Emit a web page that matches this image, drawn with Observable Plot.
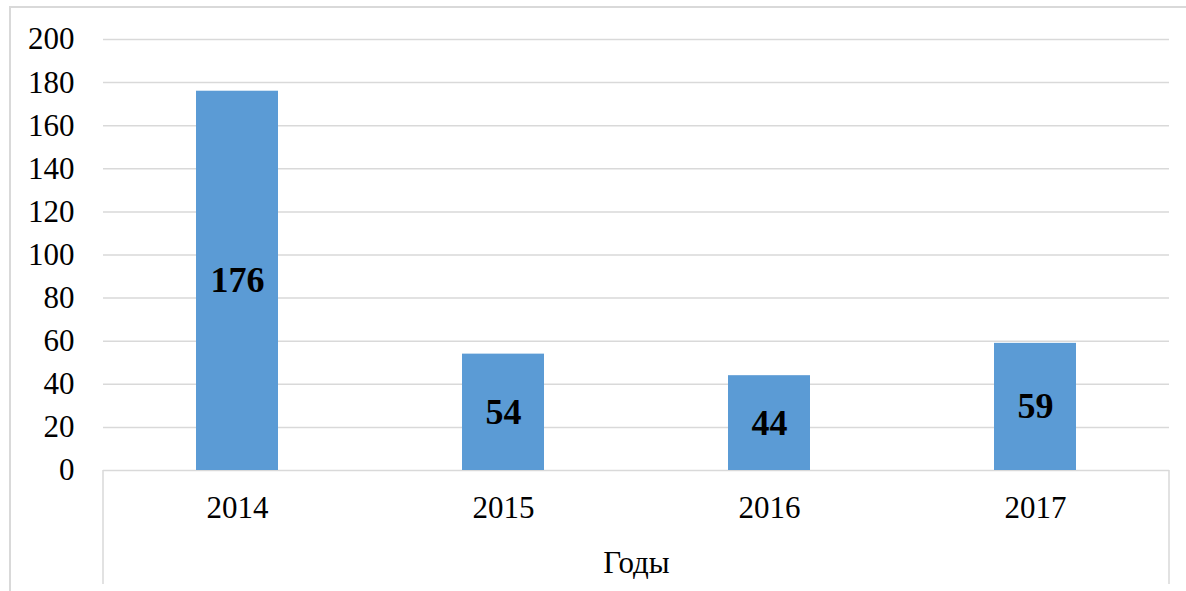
<!DOCTYPE html>
<html>
<head>
<meta charset="utf-8">
<script src="https://cdn.jsdelivr.net/npm/d3@7"></script>
<script src="https://cdn.jsdelivr.net/npm/@observablehq/plot@0.6"></script>
<style>
  html, body { margin: 0; padding: 0; background: #fff; overflow: hidden; }
  #wrap { position: relative; width: 1186px; height: 591px; }
  #border { position: absolute; left: 9px; top: 6px; width: 1200px; height: 600px; border: 2px solid #d9d9d9; box-sizing: border-box; pointer-events: none; }
</style>
</head>
<body>
<div id="wrap"><div id="border"></div></div>
<script>
const years = ["2014", "2015", "2016", "2017"];
const values = [176, 54, 44, 59];
const yTicks = [0, 20, 40, 60, 80, 100, 120, 140, 160, 180, 200];
const xTitle = "Годы";

const data = years.map((y, i) => ({year: y, value: values[i]}));

const sideLines = (index, scales, vals, dims) => {
  const g = d3.create("svg:g");
  const x0 = dims.marginLeft, x1 = dims.width - dims.marginRight;
  const yTop = dims.height - dims.marginBottom, yBot = dims.height - 7;
  for (const x of [x0, x1]) {
    g.append("line").attr("x1", x).attr("x2", x).attr("y1", yTop).attr("y2", yBot)
      .attr("stroke", "#d9d9d9").attr("stroke-width", 1.5);
  }
  return g.node();
};

const chart = Plot.plot({
  width: 1186,
  height: 591,
  marginLeft: 103,
  marginRight: 17,
  marginTop: 39,
  marginBottom: 121,
  style: {fontFamily: "'Liberation Serif', 'Times New Roman', serif", background: "transparent", color: "#000"},
  x: {domain: years, paddingInner: 0.69, paddingOuter: 0.345, label: null},
  y: {domain: [0, 200], label: null},
  marks: [
    Plot.ruleY(yTicks, {stroke: "#d9d9d9", strokeWidth: 1.5}),
    Plot.barY(data, {x: "year", y: "value", fill: "#5B9BD5"}),
    Plot.text(data, {x: "year", y: d => d.value / 2, text: d => String(d.value), fontSize: 36, fontWeight: "bold", fill: "#000"}),
    Plot.axisY({ticks: yTicks, tickSize: 0, tickPadding: 29, fontSize: 31, label: null}),
    Plot.axisX({tickSize: 0, tickPadding: 25, fontSize: 31, label: null}),
    Plot.text([xTitle], {frameAnchor: "bottom", dy: 102, fontSize: 31, fill: "#000"}),
    sideLines
  ]
});
document.getElementById("wrap").prepend(chart);
</script>
</body>
</html>
